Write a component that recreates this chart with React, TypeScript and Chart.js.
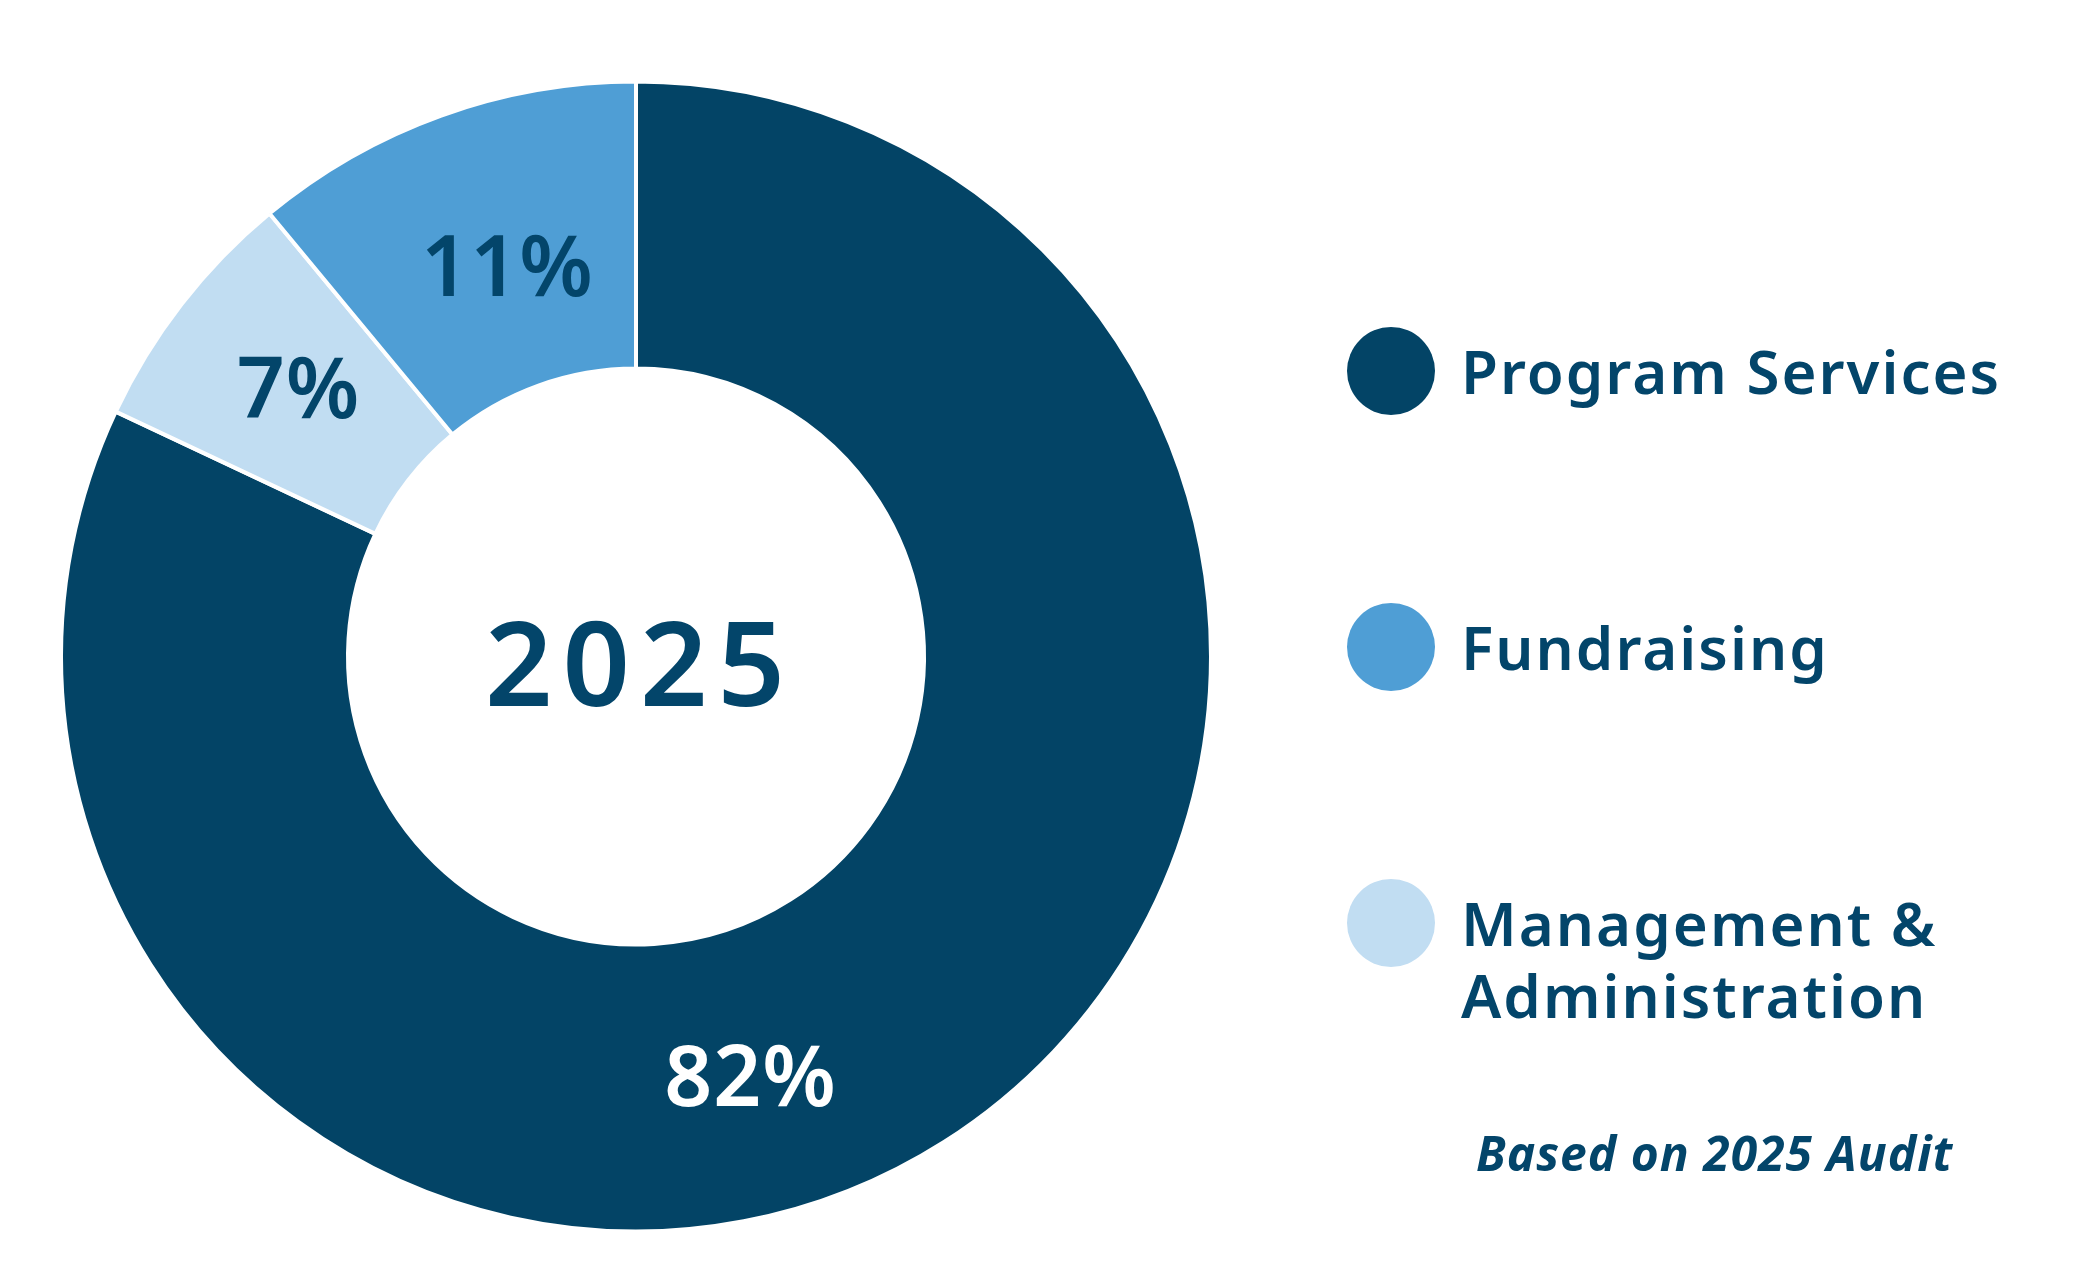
import React, { useEffect, useRef } from 'react';
import { Chart, ArcElement, DoughnutController } from 'chart.js';

Chart.register(ArcElement, DoughnutController);

// Slices, clockwise from 12 o'clock
const sliceLabels = ['Program Services', 'Management & Administration', 'Fundraising'];
const sliceValues = [82, 7, 11];
const sliceColors = ['#034466', '#c1ddf2', '#4f9ed5'];

// Legend reads top to bottom in this order
const legendOrder = ['Program Services', 'Fundraising', 'Management & Administration'];
const legendLines: Record<string, string[]> = {
  'Program Services': ['Program Services'],
  'Fundraising': ['Fundraising'],
  'Management & Administration': ['Management &', 'Administration'],
};

const centerText = '2025';
const footnote = 'Based on 2025 Audit';

const NAVY = '#03456a';
const FONT = '"Noto Sans", sans-serif';

// where each % label sits inside its slice (fraction along the arc, fraction across the ring)
const labelPlace = [
  { along: 0.558, across: 0.51, color: '#ffffff' },
  { along: 0.53, across: 0.5, color: NAVY },
  { along: 0.54, across: 0.43, color: NAVY },
];

// fill text so that the middle of the capitals sits on y
const drawCapCentered = (ctx: CanvasRenderingContext2D, text: string, x: number, y: number) => {
  const cap = ctx.measureText('H').actualBoundingBoxAscent;
  ctx.fillText(text, x, y + cap / 2);
};

const sliceLabelPlugin = {
  id: 'sliceLabels',
  afterDatasetsDraw(chart: Chart) {
    const ctx = chart.ctx;
    const meta = chart.getDatasetMeta(0);
    ctx.save();
    ctx.textAlign = 'center';
    ctx.textBaseline = 'alphabetic';
    meta.data.forEach((el: any, i: number) => {
      const p = el.getProps(['x', 'y', 'startAngle', 'endAngle', 'innerRadius', 'outerRadius'], true);
      const place = labelPlace[i];
      const a = p.startAngle + (p.endAngle - p.startAngle) * place.along;
      const r = p.innerRadius + (p.outerRadius - p.innerRadius) * place.across;
      ctx.font = `600 84px ${FONT}`;
      (ctx as any).letterSpacing = '1px';
      ctx.fillStyle = place.color;
      drawCapCentered(ctx, `${sliceValues[i]}%`, p.x + Math.cos(a) * r, p.y + Math.sin(a) * r);
    });

    // year in the hole
    const c = meta.data[0] as any;
    ctx.font = `600 118px ${FONT}`;
    (ctx as any).letterSpacing = '10px';
    ctx.fillStyle = NAVY;
    drawCapCentered(ctx, centerText, c.x + 4, c.y + 7);
    ctx.restore();
  },
};

const legendPlugin = {
  id: 'sideLegend',
  afterDraw(chart: Chart) {
    const ctx = chart.ctx;
    const dotX = 1391;
    const textX = 1461;
    const firstY = 372;
    const gap = 276;
    const lineH = 72;
    ctx.save();
    ctx.textAlign = 'left';
    ctx.textBaseline = 'alphabetic';
    legendOrder.forEach((name, k) => {
      const idx = (chart.data.labels as string[]).indexOf(name);
      const color = (chart.data.datasets[0].backgroundColor as string[])[idx];
      const y = firstY + gap * k;
      ctx.beginPath();
      ctx.arc(dotX, y - 1, 44, 0, Math.PI * 2);
      ctx.fillStyle = color;
      ctx.fill();
      ctx.font = `600 60px ${FONT}`;
      (ctx as any).letterSpacing = '2px';
      ctx.fillStyle = NAVY;
      legendLines[name].forEach((line, j) => {
        drawCapCentered(ctx, line, textX, y + lineH * j);
      });
    });
    ctx.font = `italic 700 48px ${FONT}`;
    (ctx as any).letterSpacing = '1px';
    ctx.fillStyle = NAVY;
    ctx.fillText(footnote, 1476, 1171);
    ctx.restore();
  },
};

const App: React.FC = () => {
  const canvasRef = useRef<HTMLCanvasElement>(null);

  useEffect(() => {
    document.body.style.margin = '0';
    document.body.style.overflow = 'hidden';
    if (!canvasRef.current) return;

    const chart = new Chart(canvasRef.current, {
      type: 'doughnut',
      data: {
        labels: sliceLabels,
        datasets: [
          {
            data: sliceValues,
            backgroundColor: sliceColors,
            borderColor: '#ffffff',
            borderWidth: 4,
          },
        ],
      },
      options: {
        responsive: false,
        animation: false,
        radius: 575,
        cutout: `${(288 / 575) * 100}%`,
        layout: { padding: { left: 0, right: 812, top: 49, bottom: 0 } },
        plugins: {
          legend: { display: false },
          tooltip: { enabled: false },
        },
      },
      plugins: [sliceLabelPlugin, legendPlugin],
    });

    return () => {
      chart.destroy();
    };
  }, []);

  return (
    <div style={{ width: 2084, height: 1264, background: '#ffffff' }}>
      <canvas ref={canvasRef} width={2084} height={1264} />
    </div>
  );
};

export default App;
